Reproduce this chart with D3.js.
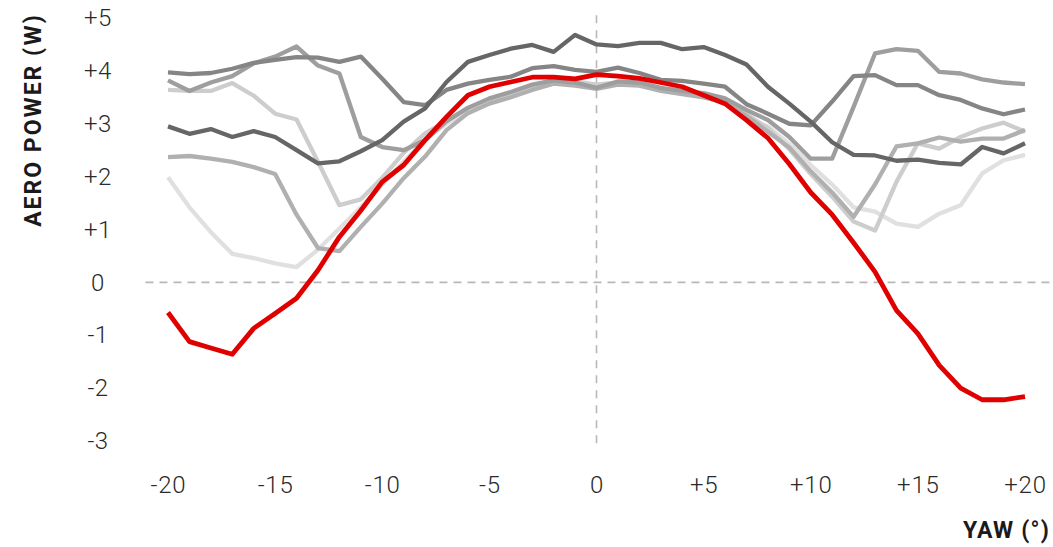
<!DOCTYPE html>
<html>
<head>
<meta charset="utf-8">
<script src="https://cdn.jsdelivr.net/npm/d3@7"></script>
<style>
  html, body { margin: 0; padding: 0; background: #fff; }
  svg { display: block; }
</style>
</head>
<body>
<svg id="chart" width="1053" height="547"></svg>
<script>
// ---- DATA ----
const yaw = [-20,-19,-18,-17,-16,-15,-14,-13,-12,-11,-10,-9,-8,-7,-6,-5,-4,-3,-2,-1,0,
             1,2,3,4,5,6,7,8,9,10,11,12,13,14,15,16,17,18,19,20];

const xTicks = [-20,-15,-10,-5,0,5,10,15,20];
const xTickLabels = ["-20","-15","-10","-5","0","+5","+10","+15","+20"];
const yTicks = [5,4,3,2,1,0,-1,-2,-3];
const yTickLabels = ["+5","+4","+3","+2","+1","0","-1","-2","-3"];

const seriesF = [1.99,1.42,0.95,0.54,0.46,0.36,0.29,0.62,1.02,1.42,1.85,2.28,2.70,3.00,3.25,3.42,3.55,3.68,3.78,3.74,3.70,
                 3.76,3.74,3.64,3.58,3.52,3.42,3.10,2.95,2.62,2.22,1.85,1.42,1.34,1.11,1.05,1.30,1.46,2.06,2.31,2.41];
const seriesC = [3.64,3.62,3.62,3.77,3.53,3.19,3.08,2.28,1.46,1.57,1.98,2.45,2.82,3.05,3.30,3.45,3.58,3.72,3.82,3.80,3.74,
                 3.78,3.76,3.66,3.60,3.55,3.45,3.18,2.92,2.52,2.05,1.62,1.15,0.98,1.90,2.63,2.53,2.75,2.91,3.02,2.85];
const seriesE = [2.37,2.39,2.34,2.28,2.18,2.05,1.28,0.65,0.59,1.05,1.49,1.97,2.38,2.88,3.20,3.38,3.50,3.64,3.76,3.72,3.66,
                 3.74,3.72,3.62,3.56,3.50,3.40,3.15,2.85,2.55,2.10,1.70,1.24,1.85,2.57,2.63,2.74,2.66,2.72,2.72,2.88];
const seriesB = [3.82,3.62,3.78,3.90,4.14,4.27,4.46,4.10,3.95,2.75,2.56,2.50,2.69,3.05,3.30,3.48,3.60,3.74,3.82,3.78,3.68,
                 3.80,3.78,3.68,3.62,3.58,3.48,3.26,3.07,2.75,2.34,2.34,3.32,4.33,4.41,4.38,3.98,3.95,3.84,3.78,3.75];
const seriesA = [3.97,3.94,3.96,4.04,4.15,4.21,4.26,4.25,4.17,4.27,3.85,3.41,3.35,3.64,3.76,3.83,3.89,4.05,4.09,4.02,3.98,
                 4.06,3.96,3.83,3.81,3.76,3.70,3.37,3.19,3.00,2.97,3.42,3.90,3.92,3.73,3.73,3.54,3.45,3.29,3.18,3.27];
const seriesD = [2.95,2.81,2.90,2.75,2.86,2.75,2.50,2.25,2.29,2.48,2.69,3.04,3.29,3.79,4.17,4.30,4.42,4.49,4.36,4.68,4.50,
                 4.47,4.53,4.53,4.41,4.45,4.30,4.12,3.70,3.38,3.04,2.65,2.41,2.40,2.30,2.32,2.26,2.23,2.56,2.44,2.63];
const seriesRed = [-0.57,-1.12,-1.24,-1.36,-0.87,-0.59,-0.30,0.23,0.86,1.36,1.90,2.22,2.69,3.13,3.54,3.70,3.79,3.88,3.88,3.85,3.93,
                   3.90,3.86,3.78,3.70,3.54,3.38,3.07,2.73,2.24,1.70,1.28,0.75,0.20,-0.53,-0.97,-1.57,-2.00,-2.22,-2.22,-2.16];

const grayColors = ["#e0e0e0","#cdcdcd","#b0b0b0","#9e9e9e","#858585","#666666"];
const redColor = "#e00000";

// ---- CHART ----
const svg = d3.select("#chart");
const x = d3.scaleLinear().domain([-20, 20]).range([168, 1025]);
const y = d3.scaleLinear().domain([-3, 5]).range([441, 18]);

// reference lines
svg.append("line")
  .attr("x1", x(-21.05)).attr("x2", x(21.3))
  .attr("y1", y(0)).attr("y2", y(0))
  .attr("stroke", "#b8b8b8").attr("stroke-width", 1.6)
  .attr("stroke-dasharray", "8,6");
svg.append("line")
  .attr("x1", x(0)).attr("x2", x(0))
  .attr("y1", y(5.05)).attr("y2", y(-3.1))
  .attr("stroke", "#b8b8b8").attr("stroke-width", 1.6)
  .attr("stroke-dasharray", "8,7");

const line = d3.line().x((d, i) => x(yaw[i])).y(d => y(d));

const grays = [seriesF, seriesC, seriesE, seriesB, seriesA, seriesD];
grays.forEach((s, k) => {
  svg.append("path")
    .datum(s)
    .attr("d", line)
    .attr("fill", "none")
    .attr("stroke", grayColors[k])
    .attr("stroke-width", 4.3)
    .attr("stroke-linejoin", "round");
});

svg.append("path")
  .datum(seriesRed)
  .attr("d", line)
  .attr("fill", "none")
  .attr("stroke", redColor)
  .attr("stroke-width", 4.8)
  .attr("stroke-linejoin", "round");

// axes (labels only)
const tickFont = "Roboto, 'DejaVu Sans', sans-serif";
const yAxis = d3.axisLeft(y).tickValues(yTicks)
  .tickFormat((d, i) => yTickLabels[i]).tickSize(0).tickPadding(0);
const gy = svg.append("g").attr("transform", "translate(98,0)").call(yAxis);
gy.select(".domain").remove();
gy.selectAll("text")
  .attr("text-anchor", "middle")
  .attr("font-family", tickFont).attr("font-weight", 300)
  .attr("font-size", 24).attr("fill", "#2a2a2a")
  .attr("letter-spacing", "0.5px");

const xAxis = d3.axisBottom(x).tickValues(xTicks)
  .tickFormat((d, i) => xTickLabels[i]).tickSize(0).tickPadding(0);
const gx = svg.append("g").attr("transform", "translate(0,476)").call(xAxis);
gx.select(".domain").remove();
gx.selectAll("text")
  .attr("font-family", tickFont).attr("font-weight", 300)
  .attr("font-size", 24).attr("fill", "#2a2a2a")
  .attr("letter-spacing", "0.8px");

// titles
svg.append("text")
  .attr("transform", "translate(41,120) rotate(-90)")
  .attr("text-anchor", "middle")
  .attr("font-family", tickFont).attr("font-weight", 700)
  .attr("font-size", 23).attr("letter-spacing", "2px")
  .attr("fill", "#1a1a1a")
  .text("AERO POWER (W)");

svg.append("text")
  .attr("x", 1050).attr("y", 538)
  .attr("text-anchor", "end")
  .attr("font-family", tickFont).attr("font-weight", 700)
  .attr("font-size", 23).attr("letter-spacing", "1.2px")
  .attr("fill", "#1a1a1a")
  .text("YAW (°)");
</script>
</body>
</html>
